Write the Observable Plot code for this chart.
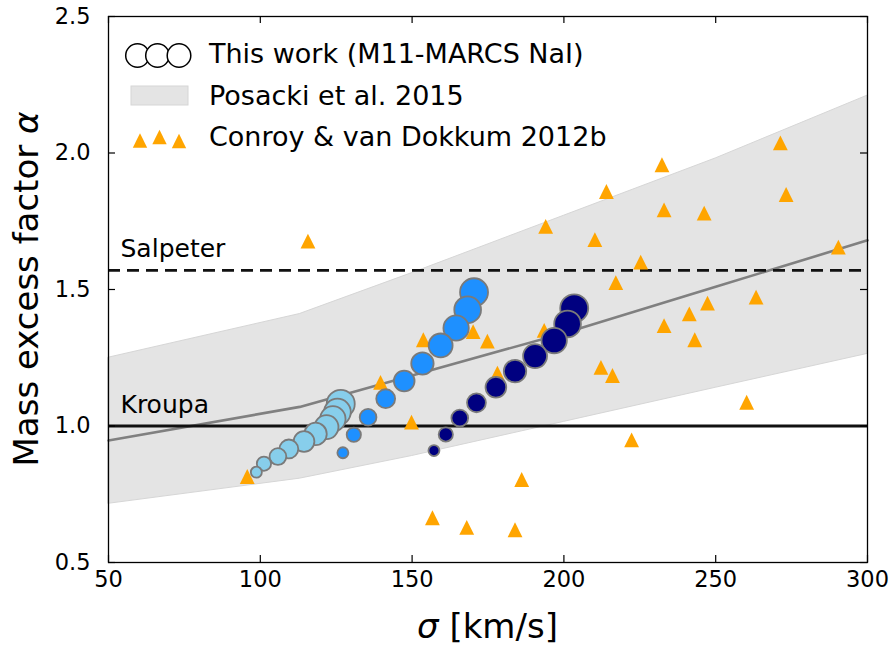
<!DOCTYPE html>
<html><head><meta charset="utf-8">
<script src="https://cdn.jsdelivr.net/npm/d3@7"></script>
<script src="https://cdn.jsdelivr.net/npm/@observablehq/plot@0.6"></script>
<style>
body{margin:0;background:#fff}
#c{position:relative;width:893px;height:646px}
</style>
</head><body><div id="c"></div>
<script>
// ---- data ----
const xTicks = [50, 100, 150, 200, 250, 300];
const yTicks = [0.5, 1.0, 1.5, 2.0, 2.5];

// Posacki et al. 2015 band
const bandSigma = [50, 113, 150, 200, 250, 300];
const bandLow   = [0.715, 0.807, 0.89, 1.015, 1.14, 1.264];
const bandMid   = [0.947, 1.07, 1.185, 1.34, 1.51, 1.68];
const bandHigh  = [1.25, 1.41, 1.56, 1.77, 1.98, 2.21];

// IMF reference lines
const imfNames  = ["Salpeter", "Kroupa"];
const imfAlpha  = [1.57, 1.0];

// This work (M11-MARCS NaI): three sequences, marker size step 1..10
const step = [1, 2, 3, 4, 5, 6, 7, 8, 9, 10];
const sigmaLight  = [98.7, 101.2, 105.8, 109.4, 114.4, 118.2, 121.8, 123.9, 125.4, 126.5];
const alphaLight  = [0.831, 0.862, 0.888, 0.916, 0.943, 0.971, 0.996, 1.026, 1.051, 1.081];
const sigmaDodger = [127.2, 130.8, 135.5, 141.3, 147.4, 153.4, 159.4, 164.5, 168.3, 170.4];
const alphaDodger = [0.902, 0.968, 1.032, 1.100, 1.165, 1.229, 1.295, 1.359, 1.426, 1.490];
const sigmaNavy   = [157.2, 161.1, 165.7, 171.2, 177.6, 183.9, 190.5, 196.8, 201.2, 203.4];
const alphaNavy   = [0.910, 0.969, 1.029, 1.085, 1.142, 1.201, 1.256, 1.313, 1.374, 1.431];

// Conroy & van Dokkum 2012b
const sigmaCvD = [95.7, 115.7, 153.7, 170.1, 174.8, 139.6, 149.8, 156.7, 168.0, 178.1,
                  194.0, 186.1, 183.9, 193.5, 210.2, 214.0, 217.1, 212.2, 216.0, 222.3,
                  225.3, 232.3, 233.0, 233.0, 241.3, 243.1, 246.2, 247.3, 260.2, 263.3,
                  271.3, 273.2, 290.4];
const alphaCvD = [0.815, 1.677, 1.316, 1.346, 1.311, 1.160, 1.014, 0.664, 0.629, 1.194,
                  1.731, 0.804, 0.620, 1.350, 1.683, 1.859, 1.525, 1.215, 1.185, 0.949,
                  1.600, 1.957, 1.792, 1.368, 1.411, 1.316, 1.780, 1.450, 1.087, 1.472,
                  2.037, 1.848, 1.655];

const legendLabels = ["This work (M11-MARCS NaI)", "Posacki et al. 2015", "Conroy & van Dokkum 2012b"];

// ---- tables ----
const band = bandSigma.map((s, i) => ({sigma: s, lo: bandLow[i], mid: bandMid[i], hi: bandHigh[i]}));
const imf = imfNames.map((n, i) => ({name: n, alpha: imfAlpha[i]}));
const series = (sig, al) => sig.map((s, i) => ({sigma: s, alpha: al[i], step: step[i]}));
const light = series(sigmaLight, alphaLight);
const dodger = series(sigmaDodger, alphaDodger);
const navy = series(sigmaNavy, alphaNavy);
const cvd = sigmaCvD.map((s, i) => ({sigma: s, alpha: alphaCvD[i]}));

// matplotlib-like "^" marker (centred on its bounding box)
const triUp = {draw(ctx, size) {
  const h = Math.sqrt(size / Math.PI);
  ctx.moveTo(0, -h); ctx.lineTo(h, h); ctx.lineTo(-h, h); ctx.closePath();
}};

const W = 893, H = 646;
const mL = 108, mR = 26, mT = 16, mB = 84;
const pw = W - mL - mR, ph = H - mT - mB;
const tick = 7;
const edge = "#7a7a7a";

const chart = Plot.plot({
  width: W, height: H,
  marginLeft: mL, marginRight: mR, marginTop: mT, marginBottom: mB,
  style: {fontFamily: "DejaVu Sans", background: "#fff", color: "#000"},
  x: {domain: [50, 300]},
  y: {domain: [0.5, 2.5]},
  r: {type: "sqrt", domain: [1, 10], range: [5.5, 14]},
  marks: [
    Plot.areaY(band, {x: "sigma", y1: "lo", y2: "hi", fill: "#e4e4e4", stroke: "#d6d6d6", strokeWidth: 1}),
    Plot.line(band, {x: "sigma", y: "mid", stroke: "#808080", strokeWidth: 2.6}),
    Plot.ruleY(imf.slice(1), {y: "alpha", stroke: "#111", strokeWidth: 2.8}),
    Plot.ruleY(imf.slice(0, 1), {y: "alpha", stroke: "#111", strokeWidth: 2.8, strokeDasharray: "12,7"}),
    Plot.text(imf, {y: "alpha", text: "name", frameAnchor: "left", textAnchor: "start", lineAnchor: "bottom", dx: 12, dy: -13, fontSize: 25, fill: "#000"}),
    Plot.dot(cvd, {x: "sigma", y: "alpha", r: 7.4, symbol: triUp, fill: "#FFA500", stroke: "none"}),
    Plot.dot(light, {x: "sigma", y: "alpha", r: "step", fill: "#87CEEB", stroke: edge, strokeWidth: 1.8}),
    Plot.dot(dodger, {x: "sigma", y: "alpha", r: "step", fill: "#1E90FF", stroke: edge, strokeWidth: 1.8}),
    Plot.dot(navy, {x: "sigma", y: "alpha", r: "step", fill: "#000080", stroke: edge, strokeWidth: 1.8}),
    Plot.frame({stroke: "#000", strokeWidth: 1.3}),
    Plot.tickX(xTicks, {x: d => d, insetTop: ph - tick, stroke: "#000", strokeWidth: 1.2}),
    Plot.tickX(xTicks, {x: d => d, insetBottom: ph - tick, stroke: "#000", strokeWidth: 1.2}),
    Plot.tickY(yTicks, {y: d => d, insetRight: pw - tick, stroke: "#000", strokeWidth: 1.2}),
    Plot.tickY(yTicks, {y: d => d, insetLeft: pw - tick, stroke: "#000", strokeWidth: 1.2}),
    Plot.axisX({ticks: xTicks, tickSize: 0, tickPadding: 9, fontSize: 22.5, label: null}),
    Plot.axisY({ticks: yTicks, tickSize: 0, tickPadding: 18, fontSize: 22.5, label: null, tickFormat: d3.format(".1f")})
  ]
});
document.getElementById("c").appendChild(chart);

// axis labels with italic math symbols
const svg = d3.select(chart);
const xl = svg.append("text").attr("x", mL + pw / 2).attr("y", 638).attr("text-anchor", "middle")
  .attr("font-family", "DejaVu Sans").attr("font-size", 34).attr("fill", "#000").style("white-space", "pre");
xl.append("tspan").attr("font-style", "italic").text("σ");
xl.append("tspan").text(" [km/s]");
const yl = svg.append("text").attr("transform", `translate(38,${mT + ph / 2}) rotate(-90)`).attr("text-anchor", "middle")
  .attr("font-family", "DejaVu Sans").attr("font-size", 34).attr("fill", "#000").style("white-space", "pre");
yl.append("tspan").text("Mass excess factor ");
yl.append("tspan").attr("font-style", "italic").text("α");

// legend (upper left, no frame)
const lg = svg.append("g").attr("font-family", "DejaVu Sans").attr("text-anchor", "start");
const rowBase = [63, 104.5, 146];
const textX = 209;
// row 1: three open circles
[[137.5, 55.5], [157.5, 55.5], [179, 55.5]].forEach(([cx, cy]) =>
  lg.append("circle").attr("cx", cx).attr("cy", cy).attr("r", 11.8).attr("fill", "#fff").attr("stroke", "#000").attr("stroke-width", 1.5));
// row 2: band patch
lg.append("rect").attr("x", 131).attr("y", 86).attr("width", 57).attr("height", 19).attr("fill", "#e4e4e4").attr("stroke", "#d6d6d6");
// row 3: three triangles
[[140, 140.5], [159.5, 137], [179, 141]].forEach(([cx, cy]) => {
  const h = 7.2;
  lg.append("path").attr("d", `M${cx},${cy - h}L${cx + h},${cy + h}L${cx - h},${cy + h}Z`).attr("fill", "#FFA500");
});
legendLabels.forEach((t, i) =>
  lg.append("text").attr("x", textX).attr("y", rowBase[i]).attr("text-anchor", "start")
    .attr("font-size", 27).attr("fill", "#000").text(t));
</script>
</body></html>
